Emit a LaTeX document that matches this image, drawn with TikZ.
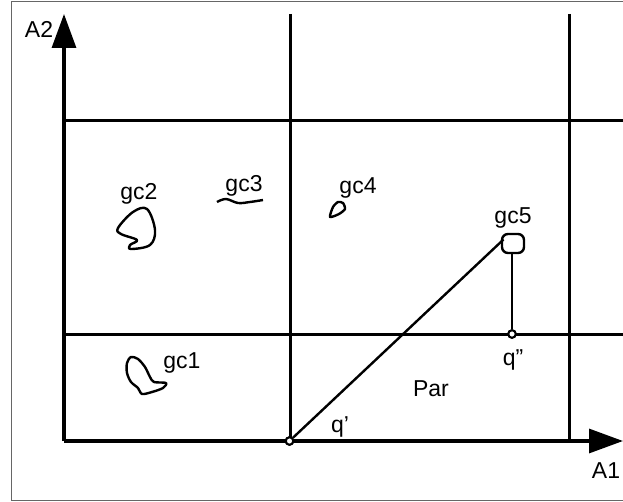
\documentclass[tikz,border=0pt]{standalone}
\usepackage{fontspec}
\setmainfont{Liberation Sans}
\usetikzlibrary{arrows.meta}
\begin{document}
\begin{tikzpicture}[x=1pt,y=-1pt,
  gridline/.style={line width=3pt},
  axisline/.style={line width=3.2pt,-{Triangle[length=34pt,width=24pt]}},
  blob/.style={line width=2.4pt,line join=round},
  lbl/.style={anchor=base,inner sep=0pt,font=\fontsize{23}{25}\selectfont},
  pt/.style={circle,draw,fill=white,line width=2pt,minimum size=7.5pt,inner sep=0pt},
  gcbox/.style={draw,rounded corners=6pt,line width=2.4pt,minimum width=22pt,minimum height=19pt,inner sep=0pt}]
\useasboundingbox (0,0) rectangle (623,502);
\clip (0,0) rectangle (623,502);
\fill[white] (0,0) rectangle (623,502);
% frame
\draw[gray!80!black,line width=1.4pt] (11.5,1.5) rectangle (640,500.5);
% coordinates
\coordinate (O) at (64,441);
\coordinate (Ytip) at (64,14);
\coordinate (Xtip) at (623,441);
\coordinate (V1t) at (290,14);
\coordinate (V1b) at (290,441);
\coordinate (V2t) at (569,14);
\coordinate (V2b) at (569,441);
\coordinate (H1l) at (64,121);
\coordinate (H1r) at (640,121);
\coordinate (H2l) at (64,334);
\coordinate (H2r) at (640,334);
% grid
\draw[gridline] (V1t) -- (V1b);
\draw[gridline] (V2t) -- (V2b);
\draw[gridline] (H1l) -- (H1r);
\draw[gridline] (H2l) -- (H2r);
% axes
\draw[axisline] (O) -- (Ytip);
\draw[axisline] (O) -- (Xtip);
% gc5 and points
\node[gcbox] (gc5) at (513,243.5) {};
\node[pt] (qpp) at (512,334) {};
\node[pt] (qp) at (289.5,441) {};
\coordinate (gc5w) at (503.5,239.5);
\draw[line width=2.4pt] (qp) -- (gc5w);
\draw[line width=2.4pt] (gc5.south -| qpp) -- (qpp);
\node[pt] at (512,334) {};
\node[pt] at (289.5,441) {};
% blobs
\draw[blob] plot[smooth cycle,tension=0.6] coordinates {(118,228) (133,212) (147,209) (155,230) (150,245) (131,249) (130,245) (137,240) (121,234)};
\draw[blob] plot[smooth,tension=0.6] coordinates {(217,202) (226,199) (238,203) (250,202) (263,200)};
\draw[blob] plot[smooth cycle,tension=0.4] coordinates {(330,217) (333,207) (338,202) (343,203) (345,209) (339,214)};
\draw[blob] plot[smooth cycle,tension=0.5] coordinates {(127,363) (131,357) (138,359) (145,367) (150,377) (154,382) (166,383) (163,388) (152,392) (142,394) (138,388) (131,382) (127,373)};
% labels
\node[lbl] (lA2) at (39,38) {A2};
\node[lbl] (lA1) at (606,478) {A1};
\node[lbl] (lgc1) at (182,368) {gc1};
\node[lbl] (lgc2) at (139,200) {gc2};
\node[lbl] (lgc3) at (244,192) {gc3};
\node[lbl] (lgc4) at (358,194) {gc4};
\node[lbl] (lgc5) at (513,224) {gc5};
\node[lbl] (lqpp) at (513,365) {q''};
\node[lbl] (lpar) at (431,396) {Par};
\node[lbl] (lqp) at (340,432) {q'};
\end{tikzpicture}
\end{document}
